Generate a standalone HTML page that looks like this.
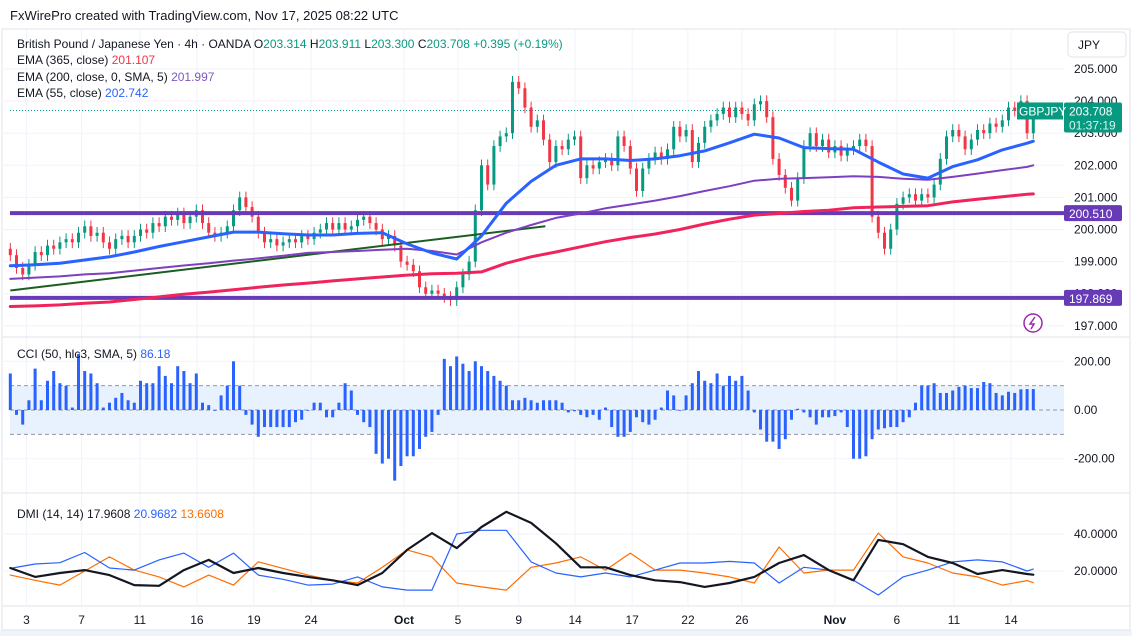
<!DOCTYPE html>
<html><head><meta charset="utf-8"><style>
html,body{margin:0;padding:0;background:#fff;}
svg{display:block;font-family:"Liberation Sans",sans-serif;}
</style></head><body>
<svg id="chart" width="1132" height="636" viewBox="0 0 1132 636" xmlns="http://www.w3.org/2000/svg">
<rect x="0" y="0" width="1132" height="636" fill="#ffffff"/>
<rect x="0" y="630" width="1132" height="6" fill="#f0f3fa"/>
<text x="10" y="20" font-size="13" fill="#131722">FxWirePro created with TradingView.com, Nov 17, 2025 08:22 UTC</text>
<rect x="2" y="29" width="1128" height="601" fill="none" stroke="#e0e3eb" stroke-width="1"/>
<g id="grid"></g>
<g id="bands"></g>
<g id="candles"></g>
<g id="emas"></g>
<g id="cci"></g>
<g id="dmi"></g>
<g id="axes"></g>
<g font-size="12" fill="#131722">
<text x="17" y="48">British Pound / Japanese Yen · 4h · OANDA <tspan fill="#131722">O</tspan><tspan fill="#089981">203.314</tspan> <tspan>H</tspan><tspan fill="#089981">203.911</tspan> <tspan>L</tspan><tspan fill="#089981">203.300</tspan> <tspan>C</tspan><tspan fill="#089981">203.708 +0.395 (+0.19%)</tspan></text>
<text x="17" y="64">EMA (365, close) <tspan fill="#f23645">201.107</tspan></text>
<text x="17" y="81">EMA (200, close, 0, SMA, 5) <tspan fill="#7e57c2">201.997</tspan></text>
<text x="17" y="97">EMA (55, close) <tspan fill="#2962ff">202.742</tspan></text>
<text x="17" y="358">CCI (50, hlc3, SMA, 5) <tspan fill="#2962ff">86.18</tspan></text>
<text x="17" y="518">DMI (14, 14) <tspan>17.9608</tspan> <tspan fill="#2962ff">20.9682</tspan> <tspan fill="#ff6d00">13.6608</tspan></text>
</g>
<g>
<rect x="1068" y="32" width="58" height="25" rx="4" fill="#fff" stroke="#e0e3eb"/>
<text x="1078" y="49" font-size="12" fill="#131722">JPY</text>
</g>
<g>
<circle cx="1033" cy="323" r="9" fill="#fff" stroke="#9c27b0" stroke-width="1.5"/>
<path d="M1035 317 L1030 324 L1034 324 L1031 329" fill="none" stroke="#9c27b0" stroke-width="1.5"/>
</g>
</svg>
<script>
const closes=[199.2,198.8,198.6,198.9,199.3,199.2,199.5,199.4,199.6,199.7,
199.6,199.9,200.1,199.8,199.9,199.6,199.4,199.7,199.8,199.6,
199.8,200.0,199.9,200.2,200.1,200.4,200.3,200.5,200.2,200.4,
200.6,200.2,199.9,199.8,199.9,200.1,200.6,201.0,200.7,200.4,
199.9,199.6,199.7,199.5,199.6,199.7,199.6,199.8,199.7,199.9,
200.0,200.2,200.0,200.2,200.0,200.1,200.3,200.4,200.2,200.0,
199.7,199.8,199.5,199.0,198.9,198.7,198.2,198.0,198.1,198.0,
197.9,197.8,198.2,198.6,199.0,200.6,202.0,201.4,202.6,202.9,
203.0,204.6,204.4,
203.8,203.2,203.4,202.8,202.1,202.6,202.5,202.8,202.9,201.6,
202.0,201.9,202.1,202.2,202.0,202.9,202.6,201.9,201.2,201.9,
202.2,202.4,202.2,202.5,203.2,202.9,203.1,202.1,202.7,203.2,
203.4,203.6,203.8,203.5,203.8,203.6,203.4,203.9,204.0,203.5,
202.2,201.7,201.3,200.9,201.6,202.6,203.0,202.6,202.8,202.4,
202.6,202.3,202.5,202.6,202.8,202.6,200.4,199.9,199.4,200.0,
200.8,201.0,201.1,200.9,201.1,201.0,201.4,202.2,202.9,203.1,
202.9,202.5,202.8,203.1,203.0,203.3,203.2,203.4,203.8,203.7,
204.0,203.0,203.7];
const cciValues=[150,-20,-60,40,170,40,120,160,110,100,
10,230,160,150,110,10,30,50,70,40,
30,120,110,110,180,140,110,180,160,110,
150,30,20,0,60,100,200,100,-20,-60,
-110,-70,-70,-70,-70,-70,-50,-40,0,30,
30,-30,-30,30,110,80,-20,-50,-70,-180,
-220,-200,-290,-230,-190,-190,-160,-110,-90,-20,
210,180,220,190,160,200,180,160,140,120,
100,
40,40,50,40,30,40,40,40,30,-10,
-5,-20,-30,-20,-40,10,-70,-110,-110,-90,
-30,-50,-60,-40,10,80,60,0,60,110,
160,120,110,150,100,140,120,140,80,-10,
-80,-130,-130,-160,-120,-40,5,-10,-30,-60,
-30,-30,-25,-10,-70,-200,-200,-190,-120,-80,
-75,-70,-70,-50,-30,30,100,100,110,70,
70,80,95,100,90,90,115,110,70,60,
75,70,85,86,86];
const ema55=[198.87,198.9,198.95,199.05,199.15,199.3,199.47,199.62,199.77,199.92,199.92,199.87,199.83,199.83,199.88,199.9,199.55,199.27,199.08,199.8,200.82,201.5,202.0,202.2,202.2,202.15,202.2,202.3,202.45,202.7,202.97,202.85,202.55,202.52,202.5,202.1,201.73,201.6,201.96,202.17,202.48,202.69,202.75];
const ema200=[198.46,198.5,198.54,198.6,198.64,198.72,198.8,198.88,198.95,199.03,199.1,199.18,199.27,199.3,199.33,199.37,199.4,199.33,199.22,199.6,199.9,200.14,200.36,200.5,200.66,200.78,200.9,201.04,201.2,201.35,201.52,201.58,201.6,201.63,201.66,201.64,201.58,201.55,201.64,201.74,201.85,201.95,202.0];
const ema365=[197.6,197.62,197.65,197.7,197.74,197.82,197.9,197.98,198.05,198.12,198.2,198.27,198.33,198.4,198.46,198.52,198.58,198.62,198.64,198.68,198.95,199.15,199.3,199.46,199.62,199.75,199.86,200.0,200.17,200.32,200.45,200.5,200.56,200.6,200.68,200.7,200.72,200.74,200.86,200.94,201.02,201.1,201.11];
const adxValues=[21.6,16.8,18.9,20.5,17.8,12.4,12,20.5,26,18.9,21.6,18.9,16.8,15,12.4,18.9,31.4,40.5,32.4,43.8,52,46,35,22,22,17.8,15,14,11.4,13.5,16.8,24.3,28.6,20.5,15,36.8,34.5,27.6,24.3,18.4,20.5,18.4,18];
const diPlus=[21.4,23.8,24.5,30,21.6,20.5,26,29.7,22,29.7,17.8,15.5,12.4,12.9,16.8,11.4,9.7,9.7,40,42,42,24.9,18.9,16.8,18.9,16.8,20.5,24.3,24.3,25.2,24.3,13.5,22,20.5,15,7,16.8,20.5,24.9,26,24.9,20,21];
const diMinus=[17.8,15,12.4,20,27.6,20.5,16.8,11.4,17.8,12.4,25,21.4,17.8,15,13.5,22,31.4,27.6,13.5,11.4,9.7,22,24.3,27.6,20.5,29.7,20.5,20.5,18.9,16.8,13.5,33,18.9,20.5,20.5,40.5,27.6,24.3,18.9,16.8,12.4,14.8,13.7];
const priceTicks=[205,204,203,202,201,200,199,198,197];
const priceTickLabels=["205.000","204.000","203.000","202.000","201.000","200.000","199.000","198.000","197.000"];
const cciTicks=[200,0,-200];
const cciTickLabels=["200.00","0.00","-200.00"];
const dmiTicks=[40,20];
const dmiTickLabels=["40.0000","20.0000"];
const dateLabels=["3","7","11","16","19","24","Oct","5","9","14","17","22","26","Nov","6","11","14"];
const dateIdx=[2.6,11.5,20.9,30.1,39.3,48.5,63.5,72.2,82.0,91.1,100.3,109.3,118.0,133.0,143.0,152.2,161.4];
const levels=[200.51,197.869];
const trend=[198.1,200.1];
const trendIdx=[0,86.3];
const lastPrice=203.708;

const NS="http://www.w3.org/2000/svg";
const X0=10.3,STEP=6.2,RIGHT=1064;
function xOf(i){return X0+STEP*i;}
function yP(p){return 69+(205-p)*32.1;}
function yC(v){return 410-v*0.2435;}
function yD(v){return 571-(v-20)*1.85;}
function mk(tag,attrs,parent){const e=document.createElementNS(NS,tag);for(const k in attrs)e.setAttribute(k,attrs[k]);parent.appendChild(e);return e;}
const G=id=>document.getElementById(id);
function lineIdx(k,n){return k<n-1?k*4:closes.length-1;}

const grid=G('grid');
priceTicks.forEach(t=>{const l=mk('line',{x1:2,x2:RIGHT,y1:yP(t),y2:yP(t),stroke:'#f0f3fa'},grid);

});
dmiTicks.forEach(t=>{const l=mk('line',{x1:2,x2:RIGHT,y1:yD(t),y2:yD(t),stroke:'#f0f3fa'},grid);

});
[200,-200].forEach(t=>{const l=mk('line',{x1:2,x2:RIGHT,y1:yC(t),y2:yC(t),stroke:'#f0f3fa'},grid);

});
dateIdx.forEach(d=>{const l=mk('line',{x1:xOf(d),x2:xOf(d),y1:30,y2:605,stroke:'#f0f3fa'},grid);

});
[337,493,606].forEach(y=>{const l=mk('line',{x1:2,x2:1130,y1:y,y2:y,stroke:'#e0e3eb'},grid);

});

const bands=G('bands');
const band=mk('rect',{x:10,y:yC(100),width:RIGHT-10,height:yC(-100)-yC(100),fill:'#e8f2fe'},bands);


[100,0,-100].forEach(v=>{const l=mk('line',{x1:10,x2:RIGHT,y1:yC(v),y2:yC(v),stroke:'#9598a1','stroke-dasharray':'4 3'},bands);

});

const cg=G('candles');
const lp=mk('line',{x1:10,x2:1017,y1:yP(lastPrice),y2:yP(lastPrice),stroke:'#089981','stroke-dasharray':'1 2'},cg);


closes.forEach((c,i)=>{
 const o=i>0?closes[i-1]:c+0.2;
 const up=c>=o,col=up?'#089981':'#f23645';
 const hi=Math.max(o,c)+0.18,lo=Math.min(o,c)-0.18;
 const x=xOf(i);
 const g=mk('g',{},cg);
 
 
 mk('line',{x1:x,x2:x,y1:yP(hi),y2:yP(lo),stroke:col,'stroke-width':1},g);
 const y1=yP(Math.max(o,c)),y2=yP(Math.min(o,c));
 mk('rect',{x:x-1.5,y:y1,width:3,height:Math.max(1,y2-y1),fill:col},g);
});

const eg=G('emas');
levels.forEach(v=>{const l=mk('line',{x1:10,x2:RIGHT,y1:yP(v),y2:yP(v),stroke:'#673ab7','stroke-width':4},eg);

});
const tl=mk('line',{x1:xOf(trendIdx[0]),x2:xOf(trendIdx[1]),y1:yP(trend[0]),y2:yP(trend[1]),stroke:'#1b5e20','stroke-width':2},eg);


function poly(arr,yf,col,w,name,parent){
 const pts=arr.map((v,k)=>xOf(lineIdx(k,arr.length)).toFixed(1)+','+yf(v).toFixed(1)).join(' ');
 const p=mk('polyline',{points:pts,fill:'none',stroke:col,'stroke-width':w,'stroke-linejoin':'round','stroke-linecap':'round'},parent);
 
 
}
poly(ema365,yP,'#f0245a',3,'ema-365-line',eg);
poly(ema200,yP,'#7e3fc0',2,'ema-200-line',eg);
poly(ema55,yP,'#2962ff',3,'ema-55-line',eg);

const cc=G('cci');
cciValues.forEach((v,i)=>{
 const y0=yC(0),y=yC(v);
 const r=mk('rect',{x:xOf(i)-1.5,y:Math.min(y0,y),width:3,height:Math.max(0.8,Math.abs(y-y0)),fill:'#2962ff'},cc);
 
 
});

const dg=G('dmi');
poly(diMinus,yD,'#ff6d00',1.2,'di-minus-line',dg);
poly(diPlus,yD,'#2962ff',1.2,'di-plus-line',dg);
poly(adxValues,yD,'#131722',2.2,'adx-line',dg);

const ax=G('axes');
function lab(x,y,t,name,opt){const e=mk('text',Object.assign({x:x,y:y,'font-size':12,fill:'#131722'},opt||{}),ax);e.textContent=t;

return e;}
priceTicks.forEach((t,k)=>{lab(1074,yP(t)+4,priceTickLabels[k],'price-tick-label');});
cciTicks.forEach((t,k)=>{lab(1074,yC(t)+4,cciTickLabels[k],'cci-tick-label');});
dmiTicks.forEach((t,k)=>{lab(1074,yD(t)+4,dmiTickLabels[k],'dmi-tick-label');});
dateLabels.forEach((t,k)=>{const bold=(t==='Oct'||t==='Nov');lab(xOf(dateIdx[k]),624,t,'date-label',{'text-anchor':'middle','font-weight':bold?'bold':'normal'});});
function tag(y,h,fill,lines,name){const g=mk('g',{},ax);


mk('rect',{x:1064,y:y,width:58,height:h,fill:fill,rx:2},g);
lines.forEach((t,k)=>{const e=mk('text',{x:1069,y:y+13+k*14,'font-size':12,fill:k?'#d6f5ee':'#fff'},g);e.textContent=t;});}
tag(yP(levels[0])-8,16,'#673ab7',['200.510'],'level-tag-200510');
tag(yP(levels[1])-8,16,'#673ab7',['197.869'],'level-tag-197869');
tag(yP(lastPrice)-8,30,'#089981',['203.708','01:37:19'],'last-price-tag');
const sg=mk('g',{},ax);


mk('rect',{x:1017,y:yP(lastPrice)-8,width:46,height:17,fill:'#089981'},sg);
const st=mk('text',{x:1019,y:yP(lastPrice)+5,'font-size':12,fill:'#fff'},sg);st.textContent='GBPJPY';
</script>
</body></html>
